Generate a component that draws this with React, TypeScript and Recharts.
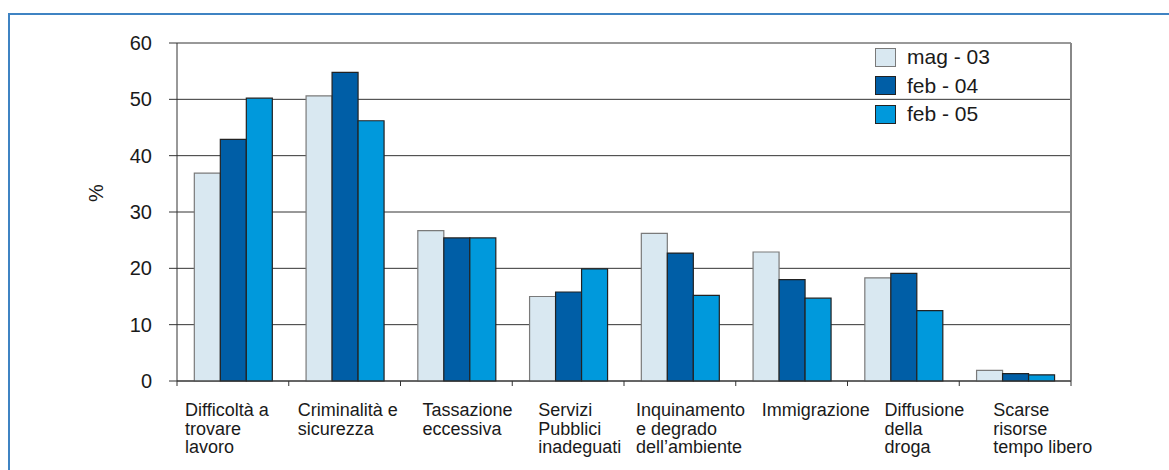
import React from 'react';
import { BarChart, Bar, XAxis, YAxis, CartesianGrid, Legend } from 'recharts';

const categories = [
  'Difficoltà a\ntrovare\nlavoro',
  'Criminalità e\nsicurezza',
  'Tassazione\neccessiva',
  'Servizi\nPubblici\ninadeguati',
  'Inquinamento\ne degrado\ndell’ambiente',
  'Immigrazione',
  'Diffusione\ndella\ndroga',
  'Scarse\nrisorse\ntempo libero',
];
const mag03 = [36.9, 50.6, 26.7, 15.0, 26.2, 22.9, 18.3, 1.9];
const feb04 = [42.9, 54.8, 25.4, 15.8, 22.7, 18.0, 19.1, 1.3];
const feb05 = [50.2, 46.2, 25.4, 19.9, 15.2, 14.7, 12.5, 1.1];
const yTicks = [0, 10, 20, 30, 40, 50, 60];

const series = [
  { key: 'mag03', name: 'mag - 03', fill: '#d9e8f1', stroke: '#7a7a7a' },
  { key: 'feb04', name: 'feb - 04', fill: '#005ea6', stroke: '#222' },
  { key: 'feb05', name: 'feb - 05', fill: '#0099dc', stroke: '#222' },
];

const data = categories.map((name, i) => ({
  name,
  mag03: mag03[i],
  feb04: feb04[i],
  feb05: feb05[i],
}));

// layout
const W = 1169;
const H = 470;
const M = { top: 43, right: 98, left: 0, bottom: 0 };
const Y_W = 177;
const PLOT_W = W - Y_W - M.right;
const BAND = PLOT_W / categories.length;
// hand placement of the category labels, px from the category's left edge
const LABEL_NUDGE = [8, 9, 22, 26, 12, 26, 37, 34];
const FONT = '"Liberation Sans", Arial, sans-serif';

const XTick = (props: any) => {
  const { x, y, payload, index } = props;
  const left = x - BAND / 2;
  const lines = String(payload.value).split('\n');
  const isLast = index === categories.length - 1;
  return (
    <g>
      <line x1={left} x2={left} y1={y} y2={y + 5} stroke="#333" />
      {isLast && <line x1={left + BAND} x2={left + BAND} y1={y} y2={y + 5} stroke="#333" />}
      <text x={left + LABEL_NUDGE[index]} y={y + 35} fontSize={18} fill="#1a1a1a" fontFamily={FONT}>
        {lines.map((l, i) => (
          <tspan key={i} x={left + LABEL_NUDGE[index]} dy={i === 0 ? 0 : 18.5}>
            {l}
          </tspan>
        ))}
      </text>
    </g>
  );
};

const LegendBox = () => (
  <div style={{ fontFamily: FONT, fontSize: 21, color: '#1a1a1a' }}>
    {series.map(s => (
      <div key={s.key} style={{ display: 'flex', alignItems: 'center', height: 28.5 }}>
        <span
          style={{
            width: 19,
            height: 17,
            background: s.fill,
            border: `1px solid ${s.stroke}`,
            marginRight: 11,
          }}
        />
        <span>{s.name}</span>
      </div>
    ))}
  </div>
);

export default function App() {
  return (
    <div style={{ position: 'relative', width: W, height: H, overflow: 'hidden' }}>
      <style>{'body{margin:0}'}</style>
      <div
        style={{
          position: 'absolute',
          left: 8,
          top: 13,
          width: W,
          height: H,
          borderTop: '2px solid #3f83c3',
          borderLeft: '2px solid #3f83c3',
        }}
      />
      <div style={{ position: 'absolute', left: 0, top: 0 }}>
        <BarChart width={W} height={H} data={data} margin={M} barCategoryGap="15.5%" barGap={0}>
          <CartesianGrid vertical={false} stroke="#333" strokeWidth={1} />
          <CartesianGrid
            horizontal={false}
            stroke="#888"
            strokeWidth={2}
            verticalCoordinatesGenerator={() => [W - M.right]}
          />
          <XAxis
            dataKey="name"
            height={H - 381 - M.bottom}
            interval={0}
            tickLine={false}
            tickSize={0}
            tickMargin={0}
            axisLine={{ stroke: '#333' }}
            tick={(p: any) => <XTick {...p} />}
          />
          <YAxis
            width={Y_W}
            domain={[0, 60]}
            ticks={yTicks}
            tickSize={8}
            tickMargin={17}
            tickLine={{ stroke: '#333' }}
            axisLine={{ stroke: '#333' }}
            tick={{ fontSize: 20, fill: '#1a1a1a', fontFamily: FONT }}
            label={{
              value: '%',
              angle: -90,
              position: 'center',
              dx: 7,
              dy: -19,
              fontSize: 20,
              fill: '#1a1a1a',
              fontFamily: FONT,
            }}
          />
          <Legend
            layout="vertical"
            align="center"
            verticalAlign="middle"
            wrapperStyle={{ top: 43, left: 875, width: 160 }}
            content={() => <LegendBox />}
          />
          {series.map(s => (
            <Bar
              key={s.key}
              dataKey={s.key}
              name={s.name}
              fill={s.fill}
              stroke={s.stroke}
              strokeWidth={1.2}
              isAnimationActive={false}
            />
          ))}
        </BarChart>
      </div>
    </div>
  );
}
